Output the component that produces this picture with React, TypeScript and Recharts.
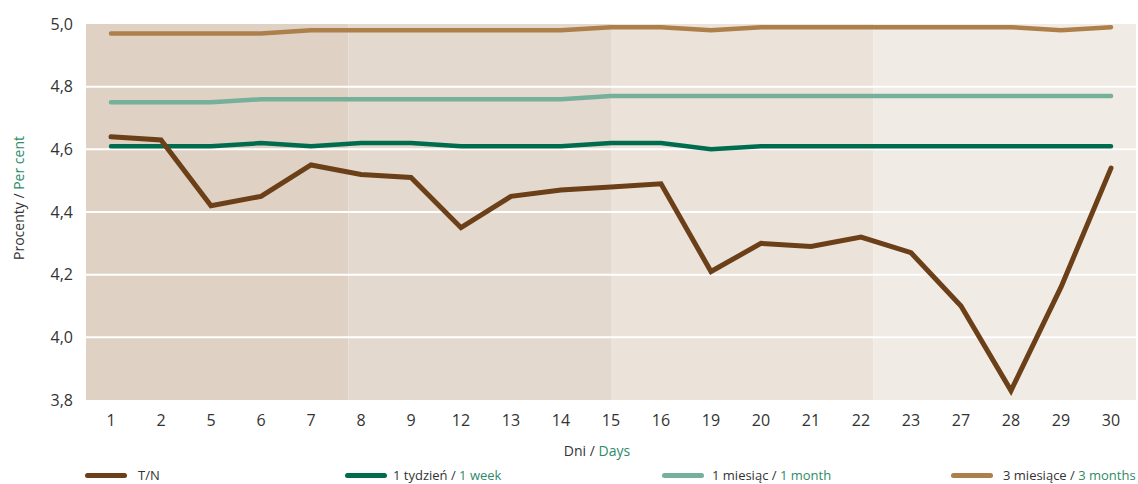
import React from 'react';
import {
  LineChart,
  Line,
  XAxis,
  YAxis,
  ReferenceArea,
  ReferenceLine,
} from 'recharts';

const days = ['1', '2', '5', '6', '7', '8', '9', '12', '13', '14', '15', '16', '19', '20', '21', '22', '23', '27', '28', '29', '30'];
const tn = [4.64, 4.63, 4.42, 4.45, 4.55, 4.52, 4.51, 4.35, 4.45, 4.47, 4.48, 4.49, 4.21, 4.3, 4.29, 4.32, 4.27, 4.1, 3.83, 4.16, 4.54];
const week1 = [4.61, 4.61, 4.61, 4.62, 4.61, 4.62, 4.62, 4.61, 4.61, 4.61, 4.62, 4.62, 4.6, 4.61, 4.61, 4.61, 4.61, 4.61, 4.61, 4.61, 4.61];
const month1 = [4.75, 4.75, 4.75, 4.76, 4.76, 4.76, 4.76, 4.76, 4.76, 4.76, 4.77, 4.77, 4.77, 4.77, 4.77, 4.77, 4.77, 4.77, 4.77, 4.77, 4.77];
const month3 = [4.97, 4.97, 4.97, 4.97, 4.98, 4.98, 4.98, 4.98, 4.98, 4.98, 4.99, 4.99, 4.98, 4.99, 4.99, 4.99, 4.99, 4.99, 4.99, 4.98, 4.99];
const yTicks = [3.8, 4.0, 4.2, 4.4, 4.6, 4.8, 5.0];
const gridValues = [4.0, 4.2, 4.4, 4.6, 4.8];
const quarters = [0, 1, 2, 3];
const quarterColors = ['#dfd1c4', '#e4d9ce', '#ebe2d9', '#f1ebe5'];

const data = days.map((d, i) => ({
  day: d,
  tn: tn[i],
  w1: week1[i],
  m1: month1[i],
  m3: month3[i],
}));

const FONT = '"Open Sans", sans-serif';
const DARK = '#333333';
const GREEN_TEXT = '#2f8a69';

const legendItems = [
  { color: '#6b3f18', pl: 'T/N', en: '', left: 85, textLeft: 138 },
  { color: '#006c4e', pl: '1 tydzień / ', en: '1 week', left: 345, textLeft: 393 },
  { color: '#74b09a', pl: '1 miesiąc / ', en: '1 month', left: 662, textLeft: 712 },
  { color: '#ad7f4b', pl: '3 miesiące / ', en: '3 months', left: 951, textLeft: 1003 },
];

export default function App() {
  return (
    <div style={{ position: 'absolute', left: 0, top: 0, width: 1138, height: 484, background: '#fff', fontFamily: FONT }}>
      <LineChart
        width={1138}
        height={484}
        data={data}
        margin={{ top: 24, right: 2, bottom: 44, left: 0 }}
      >
        <XAxis
          dataKey="day"
          type="category"
          scale="band"
          axisLine={false}
          tickLine={false}
          tickSize={0}
          tickMargin={15}
          height={40}
          tick={{ fill: DARK, fontSize: 16, fontFamily: FONT }}
          interval={0}
        />
        <XAxis xAxisId="q" dataKey="__quarter" type="number" domain={[0, 4]} allowDataOverflow hide />
        <YAxis
          domain={[3.8, 5.0]}
          ticks={yTicks}
          width={86}
          axisLine={false}
          tickLine={false}
          tickSize={0}
          tickMargin={13}
          tick={{ fill: DARK, fontSize: 16, fontFamily: FONT }}
          tickFormatter={(v: number) => v.toFixed(1).replace('.', ',')}
          allowDataOverflow
        />
        {quarters.map((q) => (
          <ReferenceArea
            key={q}
            xAxisId="q"
            x1={q}
            x2={q + 1}
            y1={3.8}
            y2={5.0}
            fill={quarterColors[q]}
            fillOpacity={1}
            stroke="none"
            ifOverflow="visible"
          />
        ))}
        {gridValues.map((v) => (
          <ReferenceLine key={v} y={v} stroke="#ffffff" strokeWidth={2} />
        ))}
        <Line dataKey="m3" stroke="#ad7f4b" strokeWidth={4.5} dot={false} isAnimationActive={false} strokeLinecap="round" />
        <Line dataKey="m1" stroke="#74b09a" strokeWidth={4.5} dot={false} isAnimationActive={false} strokeLinecap="round" />
        <Line dataKey="w1" stroke="#006c4e" strokeWidth={4.5} dot={false} isAnimationActive={false} strokeLinecap="round" />
        <Line dataKey="tn" stroke="#6b3f18" strokeWidth={5} dot={false} isAnimationActive={false} strokeLinecap="round" />
        <text x={18} y={198} transform="rotate(-90 18 198)" textAnchor="middle" dominantBaseline="central" fontSize={14} fontFamily={FONT}>
          <tspan fill={DARK}>Procenty / </tspan>
          <tspan fill={GREEN_TEXT}>Per cent</tspan>
        </text>
        <text x={597} y={456} textAnchor="middle" fontSize={14} fontFamily={FONT}>
          <tspan fill={DARK}>Dni / </tspan>
          <tspan fill={GREEN_TEXT}>Days</tspan>
        </text>
      </LineChart>
      {legendItems.map((it) => (
        <React.Fragment key={it.pl}>
          <div
            style={{
              position: 'absolute',
              left: it.left,
              top: 473,
              width: 42,
              height: 5,
              borderRadius: 3,
              background: it.color,
            }}
          />
          <div
            style={{
              position: 'absolute',
              left: it.textLeft,
              top: 466,
              fontSize: 13,
              lineHeight: '18px',
              whiteSpace: 'nowrap',
              color: DARK,
              fontFamily: FONT,
            }}
          >
            {it.pl}
            {it.en && <span style={{ color: GREEN_TEXT }}>{it.en}</span>}
          </div>
        </React.Fragment>
      ))}
    </div>
  );
}
